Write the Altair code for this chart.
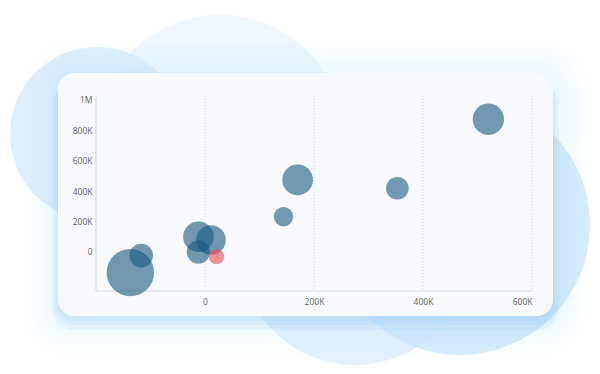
import altair as alt
import pandas as pd

# ---- data ----
x_vals = [-137000, -117000, -12000, 11000, -12000, 144000, 170000, 353000, 520000, 21000]
y_vals = [-136000, -24000, 100000, 79000, 0, 232000, 474000, 419000, 873000, -31000]
z_vals = [562, 139, 234, 219, 137, 94, 234, 128, 246, 59]
groups = ["A", "A", "A", "A", "A", "A", "A", "A", "A", "B"]

x_ticks = [0, 200000, 400000, 600000]
y_ticks = [0, 200000, 400000, 600000, 800000, 1000000]

df = pd.DataFrame({"x": x_vals, "y": y_vals, "z": z_vals, "g": groups})
grid_df = pd.DataFrame({"x": x_ticks})

W, H = 436, 195
PAD = {"left": 96, "top": 96, "right": 68, "bottom": 83}
X_DOMAIN = [-200000, 600000]
Y_DOMAIN = [-257000, 1026000]

one = alt.Data(values=[{}])

# decorative background circles (px relative to plot origin)
deco_circles = [
    (124, 44, 125, "#f0f7fe", 1.0),
    (1, 38, 87, "#dbedfc", 0.9),
    (259, 154, 115, "#e4f1fd", 1.0),
    (364, 129, 130, "#d0e7fb", 0.85),
]
layers = []
for cx, cy, r, col, op in deco_circles:
    layers.append(
        alt.Chart(one).mark_circle(color=col, opacity=op).encode(
            x=alt.value(cx), y=alt.value(cy), size=alt.value(4 * r * r)
        )
    )

card = (-38, 457, -23, 220)
# faint wide glow
for e in [34, 28, 22, 16, 11, 6]:
    layers.append(
        alt.Chart(one).mark_rect(color="#b5dafa", opacity=0.04, cornerRadius=16 + e).encode(
            x=alt.value(card[0] - e), x2=alt.value(card[1] + e),
            y=alt.value(card[2] - e + 4), y2=alt.value(card[3] + e + 4),
        )
    )
# tighter bottom shadow
for e, dy in [(6, 8), (3, 6), (1, 4)]:
    layers.append(
        alt.Chart(one).mark_rect(color="#8ec5f3", opacity=0.12, cornerRadius=16 + e).encode(
            x=alt.value(card[0] - e), x2=alt.value(card[1] + e),
            y=alt.value(card[2] + 10), y2=alt.value(card[3] + e + dy),
        )
    )

# the card
layers.append(
    alt.Chart(one).mark_rect(color="#f8fafd", cornerRadius=16).encode(
        x=alt.value(card[0]), x2=alt.value(card[1]),
        y=alt.value(card[2]), y2=alt.value(card[3]),
    )
)

# vertical dotted grid lines at the x ticks
layers.append(
    alt.Chart(grid_df).mark_rule(color="#ccd0d6", strokeDash=[1, 2], strokeWidth=1).encode(
        x=alt.X("x:Q", scale=alt.Scale(domain=X_DOMAIN, nice=False)),
        y=alt.value(0), y2=alt.value(H),
    )
)
# axis domain lines
layers.append(
    alt.Chart(one).mark_rule(color="#d6d9de").encode(
        x=alt.value(0), x2=alt.value(W), y=alt.value(H)
    )
)
layers.append(
    alt.Chart(one).mark_rule(color="#d6d9de").encode(
        x=alt.value(0), y=alt.value(0), y2=alt.value(H)
    )
)

label_expr = ("datum.value == 0 ? '0' : (abs(datum.value) >= 1000000 ? "
              "datum.value/1000000 + 'M' : datum.value/1000 + 'K')")

axis_common = dict(labelExpr=label_expr, title=None, grid=False, ticks=False, domain=False,
                   labelColor="#5f5f5f", labelFont="Open Sans", labelFontSize=8.5, zindex=1)

bubbles = alt.Chart(df).mark_circle(opacity=0.6).encode(
    x=alt.X("x:Q", scale=alt.Scale(domain=X_DOMAIN, nice=False),
            axis=alt.Axis(values=x_ticks, labelPadding=6, **axis_common)),
    y=alt.Y("y:Q", scale=alt.Scale(domain=Y_DOMAIN, nice=False),
            axis=alt.Axis(values=y_ticks, labelPadding=4, **axis_common)),
    size=alt.Size("z:Q", scale=alt.Scale(domain=[0, 600], range=[0, 2400]), legend=None),
    color=alt.Color("g:N", scale=alt.Scale(domain=["A", "B"], range=["#15597f", "#f0464b"]),
                    legend=None),
    order=alt.Order("g:N"),
)
layers.append(bubbles)

chart = alt.layer(*layers).properties(
    width=W, height=H,
    autosize=alt.AutoSizeParams(type="none"),
    padding=PAD,
    background="white",
).configure_view(stroke=None)

chart.save("out.html", embed_options={"renderer": "svg", "actions": False})
